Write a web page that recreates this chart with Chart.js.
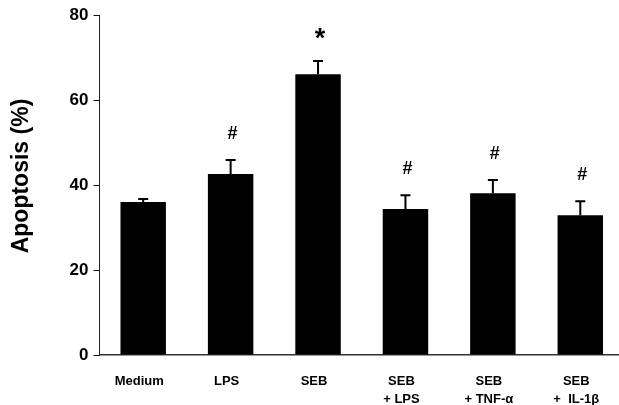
<!DOCTYPE html>
<html>
<head>
<meta charset="utf-8">
<script src="https://cdn.jsdelivr.net/npm/chart.js@4.4.0/dist/chart.umd.min.js"></script>
<style>
  html, body { margin: 0; padding: 0; background: #fff; overflow: hidden; width: 619px; height: 405px; }
  #wrap { width: 625px; height: 405px; }
</style>
</head>
<body>
<div id="wrap"><canvas id="c" width="625" height="405"></canvas></div>
<script>
// Treatment groups (x axis)
const categories = ['Medium', 'LPS', 'SEB', ['SEB', '+ LPS'], ['SEB', '+ TNF-\u03b1'], ['SEB', '+  IL-1\u03b2']];
// Mean apoptosis (%) per group
const apoptosis = [36.0, 42.6, 66.1, 34.4, 38.1, 32.9];
// Upper error (SEM) per group
const sem = [0.7, 3.3, 3.1, 3.2, 3.1, 3.3];
// Significance markers above each bar
const significance = ['', '#', '*', '#', '#', '#'];
// Y axis ticks
const yTicks = [0, 20, 40, 60, 80];
const yTitle = 'Apoptosis (%)';

const FONT = '"Liberation Sans", Arial, Helvetica, sans-serif';

// Upward error bars with caps, and the significance symbols above them
const errorBarPlugin = {
  id: 'errorBars',
  afterDatasetsDraw(chart) {
    const ctx = chart.ctx;
    const meta = chart.getDatasetMeta(0);
    const y = chart.scales.y;
    ctx.save();
    ctx.strokeStyle = '#000';
    ctx.lineWidth = 2;
    meta.data.forEach((bar, i) => {
      const top = y.getPixelForValue(apoptosis[i] + sem[i]);
      ctx.beginPath();
      ctx.moveTo(bar.x, bar.y);
      ctx.lineTo(bar.x, top);
      ctx.moveTo(bar.x - 5, top);
      ctx.lineTo(bar.x + 5, top);
      ctx.stroke();

      const s = significance[i];
      if (s) {
        const size = s === '*' ? 27 : 18;
        ctx.font = 'bold ' + size + 'px ' + FONT;
        ctx.fillStyle = '#000';
        ctx.textAlign = 'center';
        ctx.textBaseline = 'alphabetic';
        const m = ctx.measureText(s);
        const cy = top - 28;
        const base = cy + (m.actualBoundingBoxAscent - m.actualBoundingBoxDescent) / 2;
        ctx.fillText(s, bar.x + 2, base);
      }
    });
    ctx.restore();
  }
};

// Rotated y axis title
const yTitlePlugin = {
  id: 'yTitle',
  afterDraw(chart) {
    const ctx = chart.ctx;
    ctx.save();
    ctx.translate(22, 176);
    ctx.rotate(-Math.PI / 2);
    ctx.font = 'bold 23px ' + FONT;
    ctx.fillStyle = '#000';
    ctx.textAlign = 'center';
    ctx.textBaseline = 'middle';
    ctx.fillText(yTitle, 0, 0);
    ctx.restore();
  }
};

new Chart(document.getElementById('c'), {
  type: 'bar',
  data: {
    labels: categories,
    datasets: [{
      data: apoptosis,
      backgroundColor: '#000',
      borderWidth: 0,
      categoryPercentage: 1,
      barPercentage: 0.52
    }]
  },
  options: {
    responsive: false,
    animation: false,
    devicePixelRatio: 1,
    layout: { padding: { top: 15, right: 1, left: 0, bottom: 0 } },
    plugins: { legend: { display: false }, tooltip: { enabled: false } },
    scales: {
      x: {
        grid: { display: false },
        border: { display: true, color: '#333', width: 1.5 },
        ticks: {
          color: '#000',
          font: { family: FONT, size: 13, weight: 'bold', lineHeight: 1.4 },
          padding: 9,
          labelOffset: -4,
          maxRotation: 0,
          autoSkip: false
        },
        afterFit(scale) { scale.height = 50; }
      },
      y: {
        min: 0,
        max: 80,
        afterBuildTicks(scale) { scale.ticks = yTicks.map(v => ({ value: v })); },
        grid: { display: true, drawOnChartArea: false, drawTicks: true, tickLength: 6, color: '#111', lineWidth: 1 },
        border: { display: true, color: '#222', width: 1 },
        ticks: {
          color: '#000',
          font: { family: FONT, size: 17, weight: 'bold' },
          padding: 5
        },
        afterFit(scale) { scale.width = 99.5; }
      }
    }
  },
  plugins: [errorBarPlugin, yTitlePlugin]
});
</script>
</body>
</html>
